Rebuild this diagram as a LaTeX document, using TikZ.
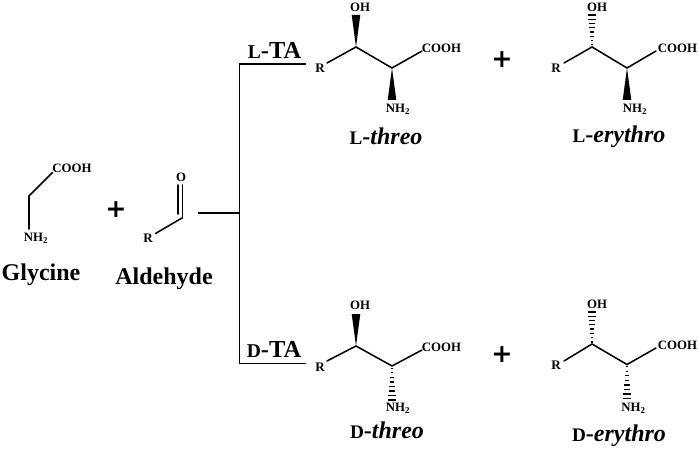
\documentclass[tikz,border=0pt]{standalone}
\usepackage{fontspec}
\setmainfont{Liberation Serif}
\newfontfamily\plusfont{DejaVu Sans}
\newcommand{\smallL}[1]{{\fontsize{0.8em}{1em}\selectfont #1}}
\newcommand{\solidw}[3]{\fill[black] (#1) -- ++(-#3,#2) -- ++(2*#3,0) -- cycle;}
\newcommand{\hashw}[3]{\foreach \i in {0,...,7}{\pgfmathsetmacro{\yy}{#2*(\i+0.5)/7.5}\pgfmathsetmacro{\hh}{0.4+#3*(\i+0.5)/7.5}\draw[line width=0.95pt] ([shift={(-\hh,\yy)}]#1) -- ([shift={(\hh,\yy)}]#1);}}
\tikzset{
  atomlabel/.style={font=\fontsize{9.6pt}{10pt}\selectfont\bfseries,inner sep=0pt},
  rgroup/.style={font=\fontsize{9.8pt}{10pt}\selectfont\bfseries,inner sep=0pt},
  cmpdname/.style={font=\fontsize{18pt}{20pt}\selectfont\bfseries,inner sep=0pt,anchor=base},
  enzyme/.style={font=\fontsize{18.3pt}{20pt}\selectfont\bfseries,inner sep=0pt,anchor=base},
  plussign/.style={font=\plusfont\fontsize{19pt}{20pt}\selectfont\bfseries,inner sep=0pt},
  bond/.style={line width=1.15pt,line cap=round},
  branch/.style={line width=0.85pt}
}
\begin{document}
\begin{tikzpicture}[x=0.75pt,y=-0.75pt]
\useasboundingbox (0,0) rectangle (699,449);
% Glycine
\node[atomlabel] (gc) at (72,168) {COOH};
\node[atomlabel] (gn) at (36,238) {NH\textsubscript{2}};
\coordinate (g1) at (29,196);
\draw[bond] (52.5,172.5) -- (g1) -- (29,229);
\node[cmpdname] (gly) at (41,280) {Glycine};
\node[plussign] (p0) at (116,210) {+};
% Aldehyde
\node[atomlabel] (ao) at (181,177) {O};
\node[rgroup] (ar) at (148,238) {R};
\coordinate (a1) at (182,218);
\draw[bond] (155.5,233.5) -- (a1);
\draw[bond] (178,185) -- (178,214);
\draw[bond] (182.5,185) -- (182.5,218);
\node[cmpdname] (ald) at (164,284) {Aldehyde};
% Branch lines
\coordinate (f0) at (198,213);
\coordinate (f1) at (239.5,213);
\coordinate (ft) at (239.5,64);
\coordinate (fb) at (239.5,363.5);
\coordinate (fte) at (306,64);
\coordinate (fbe) at (306,363.5);
\draw[branch] (f0) -- (f1);
\draw[branch] (fte) -- (ft) -- (fb) -- (fbe);
\node[enzyme] (lta) at (274.5,59) {\smallL{L}-TA};
\node[enzyme] (dta) at (274,357.5) {\smallL{D}-TA};
% L-threo
\node[rgroup] (r1) at (320,68) {R};
\node[atomlabel] (oh1) at (360,7) {OH};
\node[atomlabel] (c1) at (441.5,48) {COOH};
\node[atomlabel] (n1) at (398,109.5) {NH\textsubscript{2}};
\coordinate (a11) at (356,47); \coordinate (a12) at (392,68);
\draw[bond] (327,63) -- (a11) -- (a12) -- (422,51);
\solidw{a11}{-32}{4.3}
\solidw{a12}{32}{4.3}
\node[cmpdname] (lab1) at (386,145) {\smallL{L}-\textit{threo}};
\node[plussign] (p1) at (502,60) {+};
% L-erythro
\node[rgroup] (r2) at (556,68) {R};
\node[atomlabel] (oh2) at (597,7) {OH};
\node[atomlabel] (c2) at (677.5,48) {COOH};
\node[atomlabel] (n2) at (635,109.5) {NH\textsubscript{2}};
\coordinate (a21) at (592,47); \coordinate (a22) at (627,68);
\draw[bond] (564,63) -- (a21) -- (a22) -- (656,51);
\hashw{a21}{-32}{4}
\solidw{a22}{32}{4.3}
\node[cmpdname] (lab2) at (619,142.5) {\smallL{L}-\textit{erythro}};
% D-threo
\node[rgroup] (r3) at (320,367) {R};
\node[atomlabel] (oh3) at (360,305) {OH};
\node[atomlabel] (c3) at (441.5,347) {COOH};
\node[atomlabel] (n3) at (398,408.5) {NH\textsubscript{2}};
\coordinate (a31) at (356,346); \coordinate (a32) at (392,366);
\draw[bond] (327,361) -- (a31) -- (a32) -- (422,350);
\solidw{a31}{-32}{4.3}
\hashw{a32}{34}{4}
\node[cmpdname] (lab3) at (387,438) {\smallL{D}-\textit{threo}};
\node[plussign] (p2) at (502,355) {+};
% D-erythro
\node[rgroup] (r4) at (556,365) {R};
\node[atomlabel] (oh4) at (597,304) {OH};
\node[atomlabel] (c4) at (677.5,345) {COOH};
\node[atomlabel] (n4) at (633.5,408.5) {NH\textsubscript{2}};
\coordinate (a41) at (592,344); \coordinate (a42) at (627,364.5);
\draw[bond] (564,361) -- (a41) -- (a42) -- (656,348);
\hashw{a41}{-32}{4}
\hashw{a42}{34}{4}
\node[cmpdname] (lab4) at (619,441.5) {\smallL{D}-\textit{erythro}};
\end{tikzpicture}
\end{document}
